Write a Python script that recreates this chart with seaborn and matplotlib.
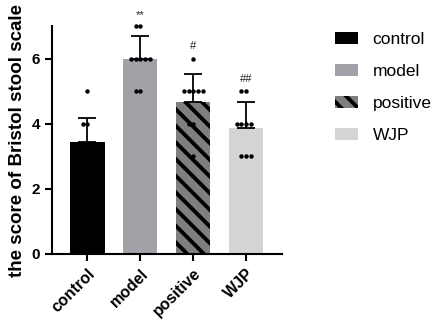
import numpy as np
import pandas as pd
import matplotlib
matplotlib.use("Agg")
import matplotlib.pyplot as plt
import seaborn as sns

# scores per group
groups = ["control", "model", "positive", "WJP"]
control = [5, 4, 4, 3, 3, 3, 3, 3, 3]
model = [7, 7, 6, 6, 6, 6, 6, 5, 5]
positive = [6, 5, 5, 5, 5, 5, 4, 4, 3]
wjp = [5, 5, 4, 4, 4, 4, 3, 3, 3]
marks = ["", "**", "#", "##"]
mark_y = [0, 7.35, 6.4, 5.38]

colors = ["#000000", "#a0a0a8", "#7f7f7f", "#d4d4d4"]

df = pd.DataFrame({
    "group": np.repeat(groups, [len(control), len(model), len(positive), len(wjp)]),
    "score": control + model + positive + wjp,
})

sns.set_style("ticks")
plt.rcParams["font.family"] = ["Liberation Sans", "DejaVu Sans"]
plt.rcParams["hatch.linewidth"] = 2.8
plt.rcParams["text.color"] = "black"
plt.rcParams["axes.labelcolor"] = "black"
plt.rcParams["xtick.color"] = "black"
plt.rcParams["ytick.color"] = "black"
plt.rcParams["axes.edgecolor"] = "black"

fig = plt.figure(figsize=(4.36, 3.35), dpi=100)
ax = fig.add_axes([0.119, 0.242, 0.528, 0.679])

sns.barplot(data=df, x="group", y="score", order=groups, errorbar=None,
            palette=colors, hue="group", legend=False, width=0.65,
            linewidth=0, ax=ax)
bars = ax.patches[:4]
bars[2].set_hatch("\\\\")
bars[2].set_edgecolor("black")
bars[2].set_linewidth(0)

# one-sided SD error bars
stats = df.groupby("group")["score"].agg(["mean", "std"]).reindex(groups)
ax.errorbar(range(4), stats["mean"], yerr=[np.zeros(4), stats["std"]],
            fmt="none", ecolor="black", elinewidth=1.3, capsize=6.5,
            capthick=1.3, zorder=3)

sns.swarmplot(data=df, x="group", y="score", order=groups, color="black",
              size=3.2, ax=ax, zorder=4)
for c in ax.collections:
    c.set_clip_on(False)

for i, m in enumerate(marks):
    if m:
        ax.text(i, mark_y[i], m, ha="center", va="center", fontsize=8,
                color="#222222", clip_on=False)

ax.set_xlim(-0.67, 3.68)
ax.set_ylim(0, 7)
ax.set_yticks([0, 2, 4, 6])
ax.set_xlabel("")
ax.set_ylabel("the score of Bristol stool scale", fontsize=13.5,
              fontweight="bold", labelpad=4)
ax.tick_params(axis="both", width=1.5, length=5, labelsize=11)
plt.setp(ax.get_xticklabels(), rotation=45, ha="right",
         rotation_mode="anchor", fontweight="bold", fontsize=11.5)
plt.setp(ax.get_yticklabels(), fontweight="bold")
sns.despine(ax=ax)
for s in ["left", "bottom"]:
    ax.spines[s].set_linewidth(1.5)

fig.legend(bars, groups, loc="upper left", bbox_to_anchor=(0.768, 0.905),
           frameon=False, fontsize=12.5, handlelength=1.32, handleheight=0.7,
           labelspacing=0.98, handletextpad=0.86, borderpad=0,
           borderaxespad=0)

fig.savefig("out.png", dpi=100)
